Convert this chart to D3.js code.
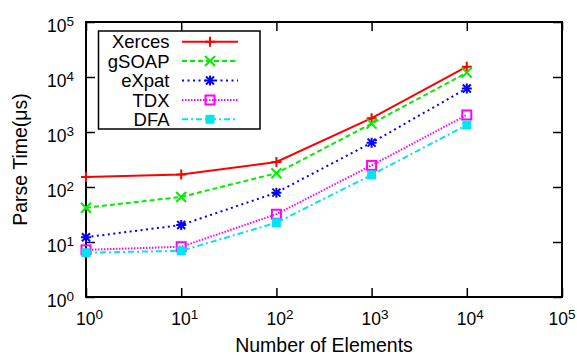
<!DOCTYPE html>
<html>
<head>
<meta charset="utf-8">
<script src="https://cdn.jsdelivr.net/npm/d3@7"></script>
<style>
  body { margin: 0; background: #fff; }
  svg { font-family: "Liberation Sans", Arial, sans-serif; }
</style>
</head>
<body>
<svg id="chart" width="577" height="355"></svg>
<script>
// values (log-log)
const sizes = [1, 10, 100, 1000, 10000];
const xerces = [152, 168, 285, 1780, 15400];
const gsoap = [42, 66, 178, 1420, 12000];
const expat = [12.2, 20.4, 79, 640, 6200];
const tdx = [7.2, 8.2, 32, 247, 2040];
const dfa = [6.4, 6.9, 22.4, 166, 1340];
const tickExps = [0, 1, 2, 3, 4, 5];

const series = [
  {name: 'Xerces', values: xerces, color: '#ff0000', dash: null, marker: 'plus'},
  {name: 'gSOAP', values: gsoap, color: '#00ee00', dash: '5,3', marker: 'cross'},
  {name: 'eXpat', values: expat, color: '#0000ff', dash: '2,3.5', marker: 'star'},
  {name: 'TDX', values: tdx, color: '#ff00ff', dash: '1.5,1.5', marker: 'box'},
  {name: 'DFA', values: dfa, color: '#00e5ee', dash: '6,3,2,3', marker: 'fbox'}
];

const pLeft = 86, pRight = 562, pTop = 22, pBottom = 297;
const svg = d3.select('#chart');

const x = d3.scaleLog().domain([1, 1e5]).range([pLeft, pRight]);
const y = d3.scaleLog().domain([1, 1e5]).range([pBottom, pTop]);
const tickVals = tickExps.map(e => Math.pow(10, e));

// ticks on all four sides, pointing inward
const tickLen = 9;
function addAxis(axis, tx, ty) {
  const g = svg.append('g')
    .attr('transform', 'translate(' + tx + ',' + ty + ')')
    .call(axis.tickValues(tickVals).tickSizeInner(-tickLen).tickSizeOuter(0).tickFormat(() => ''));
  g.select('.domain').remove();
  g.selectAll('line').attr('stroke', '#000').attr('stroke-width', 1.5);
}
addAxis(d3.axisBottom(x), 0, pBottom);
addAxis(d3.axisTop(x), 0, pTop);
addAxis(d3.axisLeft(y), pLeft, 0);
addAxis(d3.axisRight(y), pRight, 0);

// border
svg.append('rect')
  .attr('x', pLeft).attr('y', pTop)
  .attr('width', pRight - pLeft).attr('height', pBottom - pTop)
  .attr('fill', 'none').attr('stroke', '#000').attr('stroke-width', 2);

// tick labels 10^n (last one pulled in so it stays inside the page)
const xl = svg.append('g').selectAll('text')
  .data(tickExps).enter().append('text')
  .attr('x', d => Math.min(x(Math.pow(10, d)) + 3.5, 562))
  .attr('y', 325)
  .attr('text-anchor', 'middle')
  .attr('font-size', 17.5);
xl.append('tspan').text('10');
xl.append('tspan').attr('dy', -6.5).attr('font-size', 13.5).text(d => d);

const yl = svg.append('g').selectAll('text')
  .data(tickExps).enter().append('text')
  .attr('x', 74)
  .attr('y', d => y(Math.pow(10, d)) + 10.3)
  .attr('text-anchor', 'end')
  .attr('font-size', 17.5);
yl.append('tspan').text('10');
yl.append('tspan').attr('dy', -6.5).attr('font-size', 13.5).text(d => d);

// axis titles
svg.append('text')
  .attr('x', (pLeft + pRight) / 2).attr('y', 352)
  .attr('text-anchor', 'middle').attr('font-size', 19.5)
  .text('Number of Elements');
svg.append('text')
  .attr('transform', 'translate(26.5,' + (pTop + pBottom) / 2 + ') rotate(-90)')
  .attr('text-anchor', 'middle').attr('font-size', 19.5)
  .text('Parse Time(μs)');

function drawMarker(g, type, cx, cy, color) {
  const s = 5;
  if (type === 'plus' || type === 'star') {
    g.append('path').attr('d', `M${cx - s},${cy}H${cx + s}M${cx},${cy - s}V${cy + s}`)
      .attr('stroke', color).attr('stroke-width', 2).attr('fill', 'none');
  }
  if (type === 'cross' || type === 'star') {
    const k = type === 'star' ? 4 : 5;
    g.append('path').attr('d', `M${cx - k},${cy - k}L${cx + k},${cy + k}M${cx - k},${cy + k}L${cx + k},${cy - k}`)
      .attr('stroke', color).attr('stroke-width', 2).attr('fill', 'none');
  }
  if (type === 'box') {
    g.append('rect').attr('x', cx - 4.5).attr('y', cy - 4.5).attr('width', 9).attr('height', 9)
      .attr('stroke', color).attr('stroke-width', 2).attr('fill', 'none');
  }
  if (type === 'fbox') {
    g.append('rect').attr('x', cx - 4.5).attr('y', cy - 4.5).attr('width', 9).attr('height', 9)
      .attr('fill', color);
  }
}

const line = d3.line().x(d => x(d[0])).y(d => y(d[1]));

series.forEach(s => {
  const pts = sizes.map((v, i) => [v, s.values[i]]);
  const g = svg.append('g');
  g.append('path')
    .attr('d', line(pts))
    .attr('fill', 'none')
    .attr('stroke', s.color)
    .attr('stroke-width', 2)
    .attr('stroke-dasharray', s.dash);
  pts.forEach(p => drawMarker(g, s.marker, x(p[0]), y(p[1]), s.color));
});

// legend
const lg = svg.append('g');
lg.append('rect')
  .attr('x', 98.5).attr('y', 31).attr('width', 161.5).attr('height', 98)
  .attr('fill', 'none').attr('stroke', '#000').attr('stroke-width', 1.5);
const rowY = [41.7, 61, 80.5, 100, 119.3];
series.forEach((s, i) => {
  const cy = rowY[i];
  lg.append('text')
    .attr('x', 169.5).attr('y', cy + 6.5)
    .attr('text-anchor', 'end').attr('font-size', 18.5)
    .text(s.name);
  lg.append('line')
    .attr('x1', 182).attr('x2', 238).attr('y1', cy).attr('y2', cy)
    .attr('stroke', s.color).attr('stroke-width', 2)
    .attr('stroke-dasharray', s.dash);
  drawMarker(lg, s.marker, 210, cy, s.color);
});
</script>
</body>
</html>
